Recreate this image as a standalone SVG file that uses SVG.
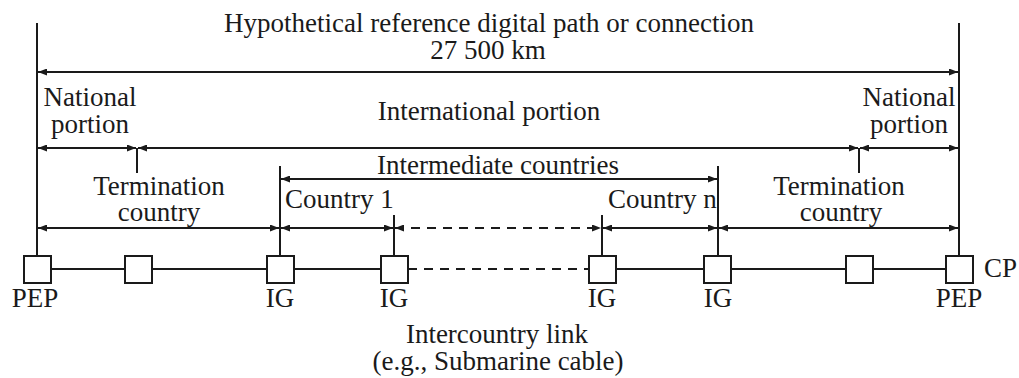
<svg xmlns="http://www.w3.org/2000/svg" width="1019" height="378" viewBox="0 0 1019 378">
<defs>
<marker id="ah" viewBox="0 0 9 7" refX="9" refY="3.5" markerWidth="9" markerHeight="7" markerUnits="userSpaceOnUse" orient="auto-start-reverse">
<path d="M0,0 L9,3.5 L0,7 z" fill="#1a1a1a"/>
</marker>
</defs>
<style>
text{font-family:"Liberation Serif","Times New Roman",serif;font-size:27px;fill:#1a1a1a}
.m{text-anchor:middle}
.s{font-size:26px}
.ln{stroke:#1a1a1a;stroke-width:2;fill:none}
.ar{stroke:#1a1a1a;stroke-width:2;fill:none;marker-start:url(#ah);marker-end:url(#ah)}
.ds{stroke-dasharray:9 7}
.box{fill:#fff;stroke:#1a1a1a;stroke-width:2}
</style>
<rect width="1019" height="378" fill="#fff"/>
<g id="connectors">
<line class="ln" x1="37" y1="23" x2="37" y2="256"/>
<line class="ln" x1="959" y1="23" x2="959" y2="256"/>
<line class="ar" x1="38" y1="72" x2="958" y2="72"/>
<line class="ln" x1="137" y1="148" x2="137" y2="173"/>
<line class="ln" x1="859" y1="148" x2="859" y2="173"/>
<line class="ar" x1="38" y1="148" x2="136" y2="148"/>
<line class="ar" x1="138" y1="148" x2="858" y2="148"/>
<line class="ar" x1="860" y1="148" x2="958" y2="148"/>
<line class="ln" x1="280" y1="166" x2="280" y2="256"/>
<line class="ln" x1="718" y1="166" x2="718" y2="256"/>
<line class="ar" x1="281" y1="179" x2="717" y2="179"/>
<line class="ln" x1="394" y1="215" x2="394" y2="256"/>
<line class="ln" x1="602" y1="215" x2="602" y2="256"/>
<line class="ar" x1="38" y1="228" x2="279" y2="228"/>
<line class="ar" x1="281" y1="228" x2="393" y2="228"/>
<line class="ar ds" x1="395" y1="228" x2="601" y2="228"/>
<line class="ar" x1="603" y1="228" x2="717" y2="228"/>
<line class="ar" x1="719" y1="228" x2="958" y2="228"/>
<line class="ln" x1="37" y1="269" x2="394" y2="269"/>
<line class="ln ds" x1="408" y1="269" x2="589" y2="269"/>
<line class="ln" x1="602" y1="269" x2="959" y2="269"/>
</g>
<g id="pep-left"><rect class="box" x="24" y="256" width="27" height="27"/><text class="m" x="35" y="307">PEP</text></g>
<g id="node-2"><rect class="box" x="125" y="256" width="27" height="27"/></g>
<g id="ig-1"><rect class="box" x="267" y="256" width="27" height="27"/><text class="m" x="280" y="307">IG</text></g>
<g id="ig-2"><rect class="box" x="381" y="256" width="27" height="27"/><text class="m" x="394" y="307">IG</text></g>
<g id="ig-3"><rect class="box" x="589" y="256" width="27" height="27"/><text class="m" x="602" y="307">IG</text></g>
<g id="ig-4"><rect class="box" x="704" y="256" width="27" height="27"/><text class="m" x="718" y="307">IG</text></g>
<g id="node-7"><rect class="box" x="846" y="256" width="27" height="27"/></g>
<g id="pep-right"><rect class="box" x="946" y="256" width="27" height="27"/><text class="m" x="959" y="307">PEP</text><text x="984" y="277">CP</text></g>
<g id="labels">
<text class="m" x="489" y="32">Hypothetical reference digital path or connection</text>
<text class="m" x="488" y="59">27 500 km</text>
<text class="m" x="90" y="106">National</text>
<text class="m" x="90" y="133">portion</text>
<text class="m" x="489" y="120">International portion</text>
<text class="m" x="909" y="106">National</text>
<text class="m" x="909" y="133">portion</text>
<text class="m" x="498" y="174">Intermediate countries</text>
<text class="m" x="159" y="195">Termination</text>
<text class="m" x="159" y="221">country</text>
<text class="m" x="839" y="195">Termination</text>
<text class="m" x="841" y="221">country</text>
<text x="285" y="208">Country 1</text>
<text x="608" y="208">Country n</text>
<text class="m" x="497" y="343">Intercountry link</text>
<text class="m" x="498" y="370">(e.g., Submarine cable)</text>
</g>
</svg>
